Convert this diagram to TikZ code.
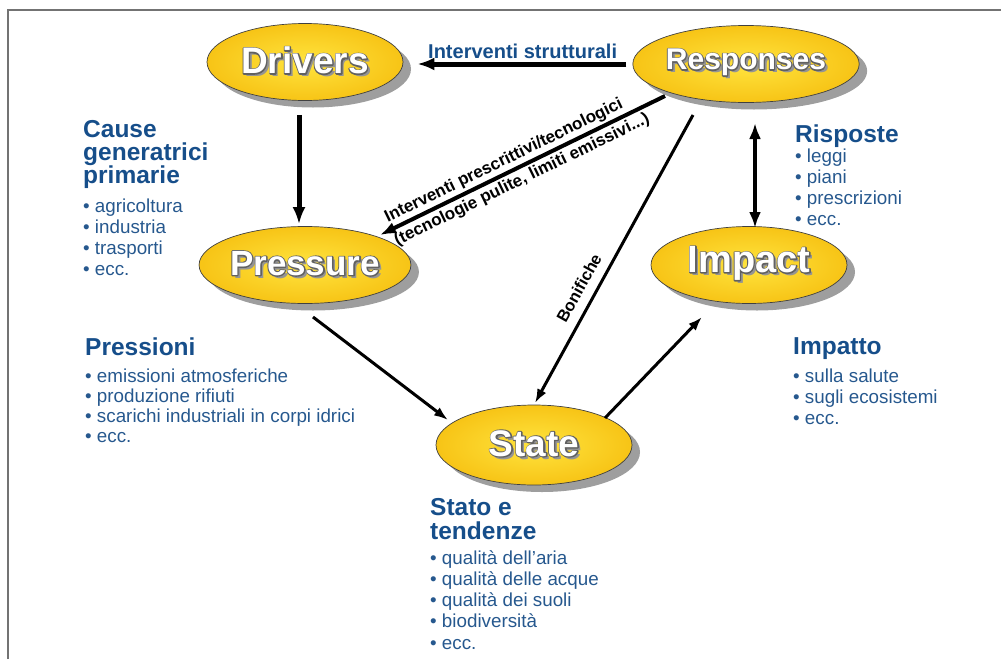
\documentclass[tikz,border=0pt]{standalone}
\usepackage{fontspec}
\setmainfont{Liberation Sans}
\usetikzlibrary{shapes.geometric,arrows.meta,shadows,calc}
\definecolor{hblue}{RGB}{22,78,138}
\definecolor{tblue}{RGB}{38,88,142}
\definecolor{ylw}{RGB}{247,196,22}
\definecolor{ylwl}{RGB}{255,228,62}
\newcommand\elt[1]{\rlap{\kern3pt\raisebox{-3pt}{\textcolor{black!42}{#1}}}\rlap{\special{pdf:literal direct 0.38 G 2.2 w 1 j 1 Tr}#1\special{pdf:literal direct 0 Tr}}{\color{white}#1}}
\begin{document}
\begin{tikzpicture}[x=1pt,y=-1pt,
  ell/.style={ellipse, draw=black!75, line width=0.7pt, minimum width=196pt, minimum height=77pt,
    inner sep=0pt, inner color=ylwl, outer color=ylw,
    drop shadow={shadow xshift=8pt, shadow yshift=-7pt, fill=black!38, opacity=1},
    font=\fontsize{37}{37}\selectfont\bfseries},
  hd/.style={font=\fontsize{24.5}{23}\selectfont\bfseries, text=hblue, align=left, inner sep=0pt, anchor=north west},
  bl/.style={font=\fontsize{18.8}{21}\selectfont, text=tblue, align=left, inner sep=0pt, anchor=north west},
  thick5/.style={line width=5pt, -{Latex[length=17pt,width=13pt]}},
  thick4/.style={line width=4pt, -{Latex[length=16pt,width=12pt]}},
  thin3/.style={line width=3pt, -{Latex[length=14pt,width=10pt]}},
  lbl/.style={font=\fontsize{17}{17}\selectfont\bfseries, inner sep=0pt}]
\useasboundingbox (0,0) rectangle (1001,659);
% frame
\draw[black!55, line width=2pt] (8,659) -- (8,10) -- (1001,10);

% ellipses
\node[ell] (drv) at (305,62) {\elt{Drivers}};
\node[ell, font=\fontsize{30}{30}\selectfont\bfseries] (resp) at (746,64) {\elt{Responses}};
\node[ell, font=\fontsize{35}{35}\selectfont\bfseries] (press) at (305,265) {\elt{Pressure}};
\node[ell, font=\fontsize{38}{38}\selectfont\bfseries] (imp) at (749,265) {\elt{Impact}};
\node[ell, minimum height=80pt] (state) at (534,445) {\elt{State}};

% connectors
\draw[thick5, shorten <=6pt, shorten >=14pt] (resp.west) -- (resp.west -| drv.east);
\draw[thick5, shorten <=14pt, shorten >=2pt] ([xshift=-6pt]drv.south) -- ([xshift=-6pt]press.north);
\draw[thick4] ($(resp)+(-81,32)$) -- ($(press)+(75,-30)$);
\draw[thin3] ($(resp)+(-53,51)$) -- ($(state)+(1,-42)$);
\draw[thin3] ($(press)+(8,52)$) -- ($(state)+(-86,-25)$);
\draw[thin3] ($(state)+(71,-27)$) -- ($(imp)+(-47,52)$);
\draw[line width=4pt, {Latex[length=16pt,width=12pt]}-{Latex[length=16pt,width=12pt]}] ($(resp)+(9,59)$) -- ($(imp)+(6,-37)$);

% connector labels
\node[font=\fontsize{20}{20}\selectfont\bfseries, text=hblue, inner sep=0pt, anchor=base west] (lstr) at (428,58) {Interventi strutturali};
\node[lbl, rotate=26] (lpre1) at (504,161) {Interventi prescrittivi/tecnologici};
\node[lbl, rotate=26] (lpre2) at (522,180) {(tecnologie pulite, limiti emissivi...)};
\node[lbl, font=\fontsize{16.5}{16.5}\selectfont\bfseries, rotate=61] (lbon) at (579,288) {Bonifiche};

% text blocks
\node[hd] (hcause) at (83,120) {Cause\\generatrici\\primarie};
\node[bl] (bcause) at (83,199) {\textbullet\ agricoltura\\\textbullet\ industria\\\textbullet\ trasporti\\\textbullet\ ecc.};

\node[hd] (hpress) at (85,338) {Pressioni};
\node[bl, font=\fontsize{18.8}{20}\selectfont] (bpress) at (85,369) {\textbullet\ emissioni atmosferiche\\\textbullet\ produzione rifiuti\\\textbullet\ scarichi industriali in corpi idrici\\\textbullet\ ecc.};

\node[hd] (hrisp) at (795,125) {Risposte};
\node[bl] (brisp) at (795,149) {\textbullet\ leggi\\\textbullet\ piani\\\textbullet\ prescrizioni\\\textbullet\ ecc.};

\node[hd] (himp) at (793,337) {Impatto};
\node[bl] (bimp) at (793,369) {\textbullet\ sulla salute\\\textbullet\ sugli ecosistemi\\\textbullet\ ecc.};

\node[hd, font=\fontsize{24.5}{24}\selectfont\bfseries] (hstato) at (430,498) {Stato e\\tendenze};
\node[bl, font=\fontsize{18.8}{21.3}\selectfont] (bstato) at (430,550) {\textbullet\ qualità dell’aria\\\textbullet\ qualità delle acque\\\textbullet\ qualità dei suoli\\\textbullet\ biodiversità\\\textbullet\ ecc.};
\end{tikzpicture}
\end{document}
